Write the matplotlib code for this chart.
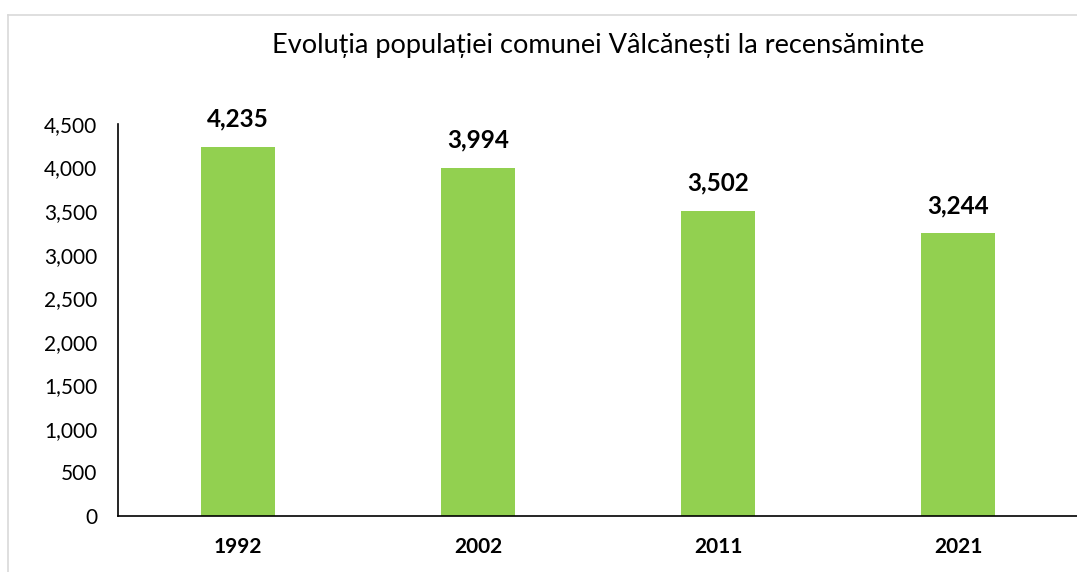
import matplotlib
matplotlib.use("Agg")
import matplotlib.pyplot as plt
from matplotlib.lines import Line2D

years = ["1992", "2002", "2011", "2021"]
population = [4235, 3994, 3502, 3244]
yticks = [0, 500, 1000, 1500, 2000, 2500, 3000, 3500, 4000, 4500]
title = "Evoluția populației comunei Vâlcănești la recensăminte"

plt.rcParams['font.family'] = ['Lato', 'DejaVu Sans']

fig = plt.figure(figsize=(10.77, 5.72), dpi=100)
ax = fig.add_axes([118/1077, 1-516/572, 960/1077, (516-124)/572])

x = list(range(len(years)))
ax.bar(x, population, width=0.31, color="#92D050", zorder=2)
ax.set_xlim(-0.5, 3.5)
ax.set_ylim(0, 4500)
ax.set_yticks(yticks)
ax.set_yticklabels([f"{v:,}" for v in yticks], fontsize=15)
ax.set_xticks(x)
ax.set_xticklabels(years, fontsize=15, fontweight="bold")
ax.tick_params(axis="y", length=0, pad=15)
ax.tick_params(axis="x", length=0, pad=15)
for s in ["top", "right"]:
    ax.spines[s].set_visible(False)
ax.spines["left"].set_color("#000000")
ax.spines["bottom"].set_color("#000000")
ax.spines["left"].set_linewidth(1.2)
ax.spines["bottom"].set_linewidth(1.2)

for xi, v in zip(x, population):
    ax.annotate(f"{v:,}", (xi, v), xytext=(0, 20), textcoords="offset points",
                ha="center", va="center", fontsize=17.5, fontweight="bold")

fig.text(598/1077, 1-45/572, title, ha="center", va="center", fontsize=19.5)

# chart border (cropped frame)
fig.add_artist(Line2D([8/1077, 8/1077], [0, 1-15/572], transform=fig.transFigure, color="#d9d9d9", lw=1.2))
fig.add_artist(Line2D([8/1077, 1], [1-15/572, 1-15/572], transform=fig.transFigure, color="#d9d9d9", lw=1.2))

fig.savefig("out.png", dpi=100)
